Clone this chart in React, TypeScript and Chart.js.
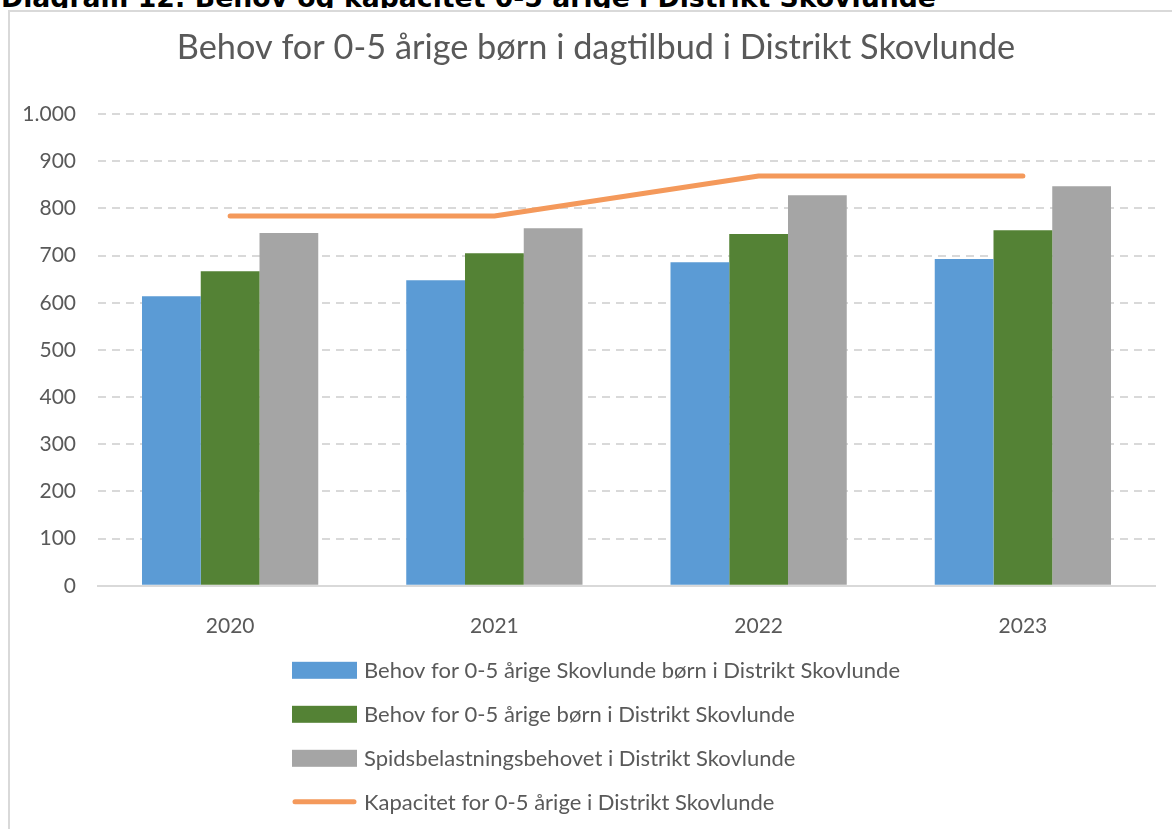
import React, { useEffect, useRef } from "react";
import { Chart, registerables } from "chart.js";

Chart.register(...registerables);

const caption = "Diagram 12: Behov og kapacitet 0-5 årige i Distrikt Skovlunde";
const chartTitle = "Behov for 0-5 årige børn i dagtilbud i Distrikt Skovlunde";
const years = ["2020", "2021", "2022", "2023"];
const seriesNames = [
  "Behov for 0-5 årige Skovlunde børn i Distrikt Skovlunde",
  "Behov for 0-5 årige børn i Distrikt Skovlunde",
  "Spidsbelastningsbehovet i Distrikt Skovlunde",
  "Kapacitet for 0-5 årige i Distrikt Skovlunde",
];
const behovSkovlundeBoern = [614, 648, 686, 693];
const behovBoern = [667, 705, 746, 754];
const spidsbelastning = [748, 758, 828, 847];
const kapacitet = [784, 784, 869, 869];
const yMin = 0;
const yMax = 1000;
const yStep = 100;

const colors = ["#5B9BD5", "#548235", "#A5A5A5", "#F4995B"];
const textColor = "#595959";
const FONT = "Lato";

const formatTick = (v: number) =>
  String(v).replace(/\B(?=(\d{3})+(?!\d))/g, ".");

const legendPlugin = {
  id: "customLegend",
  afterLayout(chart: any) {
    // let the y tick labels use the space left of the axis box
    if (chart.scales.y) chart.scales.y.left = 0;
  },
  afterDraw(chart: any) {
    const ctx = chart.ctx as CanvasRenderingContext2D;
    ctx.save();
    ctx.font = `22px ${FONT}`;
    const ds = chart.data.datasets;
    const boxW = 65;
    const gap = 7;
    let maxW = 0;
    ds.forEach((d: any) => {
      maxW = Math.max(maxW, ctx.measureText(d.label).width);
    });
    const left = Math.round((chart.width - (boxW + gap + maxW)) / 2);
    const top = chart.chartArea.bottom + 84;
    ds.forEach((d: any, i: number) => {
      const y = top + i * 44;
      if (d.type === "line") {
        ctx.strokeStyle = d.borderColor;
        ctx.lineWidth = 5;
        ctx.lineCap = "round";
        ctx.beginPath();
        ctx.moveTo(left + 3, y);
        ctx.lineTo(left + boxW - 3, y);
        ctx.stroke();
      } else {
        ctx.fillStyle = d.backgroundColor;
        ctx.fillRect(left, y - 8, boxW, 17);
      }
      ctx.fillStyle = textColor;
      ctx.textBaseline = "middle";
      ctx.textAlign = "left";
      ctx.fillText(d.label, left + boxW + gap, y + 1);
    });
    ctx.restore();
  },
};

function BarChart() {
  const ref = useRef<HTMLCanvasElement | null>(null);
  useEffect(() => {
    document.documentElement.style.overflow = "hidden";
    document.body.style.margin = "0";
    const canvas = ref.current;
    if (!canvas) return;
    const barCommon = {
      type: "bar" as const,
      categoryPercentage: 0.667,
      barPercentage: 1,
      order: 1,
      borderWidth: 0,
    };
    const chart = new Chart(canvas, {
      type: "bar",
      data: {
        labels: years,
        datasets: [
          { ...barCommon, label: seriesNames[0], data: behovSkovlundeBoern, backgroundColor: colors[0] },
          { ...barCommon, label: seriesNames[1], data: behovBoern, backgroundColor: colors[1] },
          { ...barCommon, label: seriesNames[2], data: spidsbelastning, backgroundColor: colors[2] },
          {
            type: "line",
            label: seriesNames[3],
            data: kapacitet,
            borderColor: colors[3],
            backgroundColor: colors[3],
            borderWidth: 5,
            borderCapStyle: "round",
            borderJoinStyle: "round",
            pointRadius: 0,
            tension: 0,
            order: 0,
          } as any,
        ],
      },
      options: {
        responsive: false,
        animation: false,
        layout: { padding: { left: 27, right: 27, top: 0, bottom: 162 } },
        plugins: {
          legend: { display: false },
          tooltip: { enabled: false },
          title: {
            display: true,
            text: chartTitle,
            color: textColor,
            font: { family: FONT, size: 34.3, weight: "normal" },
            padding: { top: 15.5, bottom: 45.5 },
          },
        },
        scales: {
          x: {
            grid: { display: false, drawTicks: false },
            border: { display: true, color: "#D9D9D9", width: 2 },
            ticks: {
              color: textColor,
              font: { family: FONT, size: 21 },
              padding: 28,
            },
          },
          y: {
            min: yMin,
            max: yMax,
            afterFit: (scale: any) => {
              scale.width = 61;
            },
            ticks: {
              stepSize: yStep,
              color: textColor,
              font: { family: FONT, size: 21 },
              padding: 22,
              callback: (v: any) => formatTick(Number(v)),
            },
            grid: {
              drawTicks: false,
              lineWidth: 2,
              color: (ctx: any) =>
                ctx.tick && ctx.tick.value === 0 ? "rgba(0,0,0,0)" : "#D9D9D9",
            },
            border: { display: false, dash: [8, 6] },
          },
        },
      },
      plugins: [legendPlugin],
    } as any);
    return () => chart.destroy();
  }, []);
  return <canvas ref={ref} width={1172} height={817} style={{ display: "block" }} />;
}

export default function App() {
  return (
    <div style={{ width: 1182 }}>
      <div
        style={{
          position: "relative",
          height: 8,
          overflow: "hidden",
          background: "#fff",
        }}
      >
        <div
          style={{
            position: "absolute",
            left: 1,
            top: -16,
            fontFamily: "'DejaVu Sans', sans-serif",
            fontWeight: "bold",
            fontSize: 26.7,
            lineHeight: "27px",
            whiteSpace: "nowrap",
            color: "#000",
          }}
        >
          {caption}
        </div>
      </div>
      <div
        style={{
          marginLeft: 8,
          background: "#fff",
          paddingTop: 2,
          width: 1174,
        }}
      >
        <div
          style={{
            borderTop: "2px solid #D9D9D9",
            borderLeft: "2px solid #D9D9D9",
            background: "#fff",
          }}
        >
          <BarChart />
        </div>
      </div>
    </div>
  );
}
